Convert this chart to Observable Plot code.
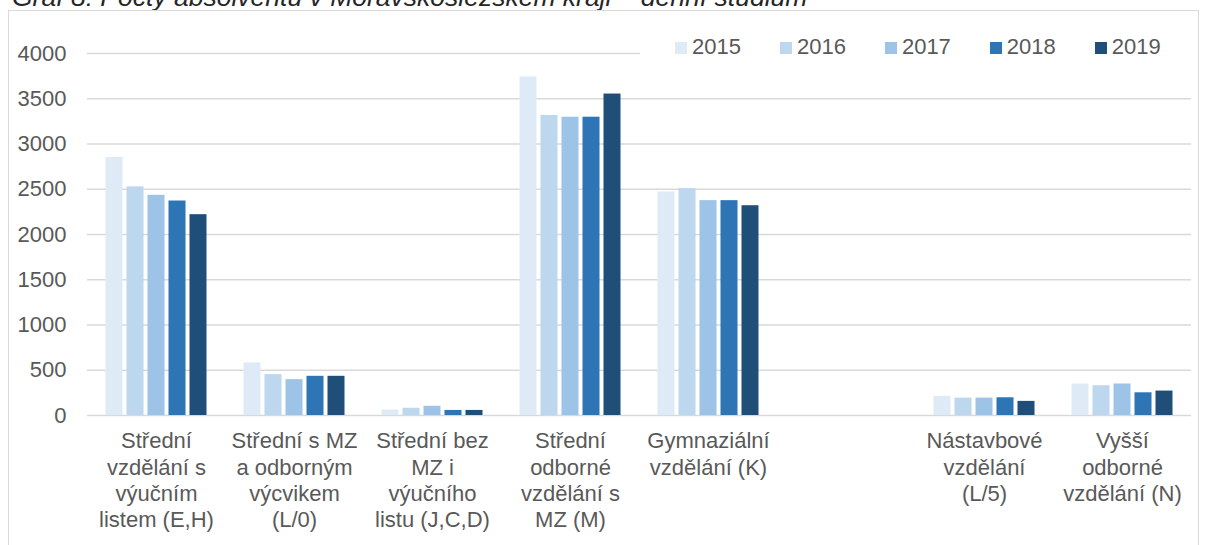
<!DOCTYPE html>
<html>
<head>
<meta charset="utf-8">
<script src="https://cdn.jsdelivr.net/npm/d3@7"></script>
<script src="https://cdn.jsdelivr.net/npm/@observablehq/plot@0.6"></script>
<style>
  html, body { margin: 0; padding: 0; background: #fff; }
  body { width: 1205px; height: 545px; position: relative; overflow: hidden; font-family: "Liberation Sans", Arial, sans-serif; }
  #title { position: absolute; left: 12px; top: -16px; font-size: 26.5px; line-height: 26px; font-style: italic; color: #262626; white-space: nowrap; }
  #frame { position: absolute; left: 8px; top: 10px; width: 1191px; height: 560px; border: 1px solid #d9d9d9; box-sizing: border-box; }
  #chart { position: absolute; left: 0; top: 0; }
  #legend { position: absolute; left: 640px; top: 33px; width: 552px; height: 28px; background: #fff; display: flex; align-items: center; padding-left: 35px; box-sizing: border-box; font-size: 22px; color: #595959; }
  .item { display: flex; align-items: center; margin-right: 39px; }
  .sw { width: 12px; height: 12px; margin-right: 5px; margin-top: 2px; }
</style>
</head>
<body>
<div id="title">Graf 8: Počty absolventů v Moravskoslezském kraji – denní studium</div>
<div id="frame"></div>
<div id="chart"></div>
<div id="legend"></div>
<script>
const categories = [
  "Střední\nvzdělání s\nvýučním\nlistem (E,H)",
  "Střední s MZ\na odborným\nvýcvikem\n(L/0)",
  "Střední bez\nMZ i\nvýučního\nlistu (J,C,D)",
  "Střední\nodborné\nvzdělání s\nMZ (M)",
  "Gymnaziální\nvzdělání (K)",
  "",
  "Nástavbové\nvzdělání\n(L/5)",
  "Vyšší\nodborné\nvzdělání (N)"
];
const years = ["2015", "2016", "2017", "2018", "2019"];
const v2015 = [2852, 581, 60, 3741, 2470, null, 211, 348];
const v2016 = [2526, 452, 80, 3315, 2507, null, 192, 329];
const v2017 = [2433, 396, 102, 3296, 2374, null, 192, 348];
const v2018 = [2370, 433, 56, 3296, 2374, null, 196, 251];
const v2019 = [2219, 433, 56, 3552, 2318, null, 156, 270];
const yTicks = [0, 500, 1000, 1500, 2000, 2500, 3000, 3500, 4000];
const colors = ["#deebf7", "#bdd7ee", "#9dc3e6", "#2e75b6", "#1f4e79"];

const series = [v2015, v2016, v2017, v2018, v2019];
const data = [];
categories.forEach((c, i) => {
  years.forEach((y, j) => {
    data.push({cat: c, year: y, value: series[j][i]});
  });
});

const chart = Plot.plot({
  width: 1205,
  height: 545,
  marginLeft: 84.5,
  marginRight: 12.5,
  marginTop: 53,
  marginBottom: 130,
  style: {fontFamily: "'Liberation Sans', Arial, sans-serif", fontSize: "22px", color: "#595959", background: "transparent", overflow: "visible"},
  fx: {domain: categories, padding: 0, axis: null, label: null},
  x: {domain: years, paddingInner: 0.18, paddingOuter: 0.87, axis: null},
  y: {domain: [0, 4000], axis: null},
  color: {domain: years, range: colors},
  facet: {data: data, x: "cat"},
  marks: [
    Plot.gridY(yTicks, {stroke: "#d9d9d9", strokeOpacity: 1, strokeWidth: 1.5}),
    Plot.barY(data, {fx: "cat", x: "year", y: "value", fill: "year"}),
    Plot.axisY(yTicks, {tickSize: 0, tickPadding: 21, label: null, fill: "#595959", tickFormat: d => String(d), facetAnchor: "left"}),
    Plot.axisFx({anchor: "bottom", tickSize: 0, tickPadding: 14, label: null, lineHeight: 1.2, fill: "#595959"})
  ]
});
document.getElementById("chart").appendChild(chart);

const legend = document.getElementById("legend");
years.forEach((y, i) => {
  const item = document.createElement("div");
  item.className = "item";
  const sw = document.createElement("div");
  sw.className = "sw";
  sw.style.background = colors[i];
  const t = document.createElement("span");
  t.textContent = y;
  item.appendChild(sw);
  item.appendChild(t);
  legend.appendChild(item);
});
</script>
</body>
</html>
